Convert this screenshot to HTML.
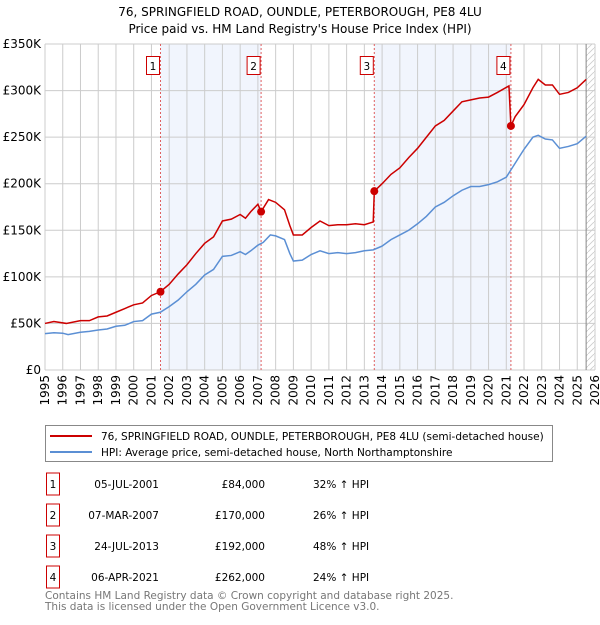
<!DOCTYPE html>
<html><head><meta charset="utf-8"><style>
body{margin:0;background:#fff;font-family:"Liberation Sans","DejaVu Sans",sans-serif;}
svg text{font-family:"DejaVu Sans","Liberation Sans",sans-serif;}
</style></head><body>
<svg id="chart" width="600" height="620" xmlns="http://www.w3.org/2000/svg">
<text x="300" y="16" text-anchor="middle" font-size="12">76, SPRINGFIELD ROAD, OUNDLE, PETERBOROUGH, PE8 4LU</text>
<text x="300" y="33" text-anchor="middle" font-size="12">Price paid vs. HM Land Registry's House Price Index (HPI)</text>
<g id="plot"></g>
<g>
<rect x="45.5" y="425.5" width="507" height="36" fill="#fff" stroke="#888"/>
<line x1="50" y1="436" x2="92" y2="436" stroke="#cc0000" stroke-width="2"/>
<text x="101" y="440" font-size="10.5">76, SPRINGFIELD ROAD, OUNDLE, PETERBOROUGH, PE8 4LU (semi-detached house)</text>
<line x1="50" y1="452" x2="92" y2="452" stroke="#5b8fd4" stroke-width="2"/>
<text x="101" y="456" font-size="10.5">HPI: Average price, semi-detached house, North Northamptonshire</text>
</g>
<g id="table" font-size="10.5"></g>
<text x="45" y="599" font-size="10.5" fill="#777">Contains HM Land Registry data © Crown copyright and database right 2025.</text>
<text x="45" y="610" font-size="10.5" fill="#777">This data is licensed under the Open Government Licence v3.0.</text>
</svg>
<script>
const hpiYears=[1995,1995.5,1996,1996.3,1997,1997.5,1998,1998.5,1999,1999.5,2000,2000.5,2001,2001.5,2002,2002.5,2003,2003.5,2004,2004.5,2005,2005.5,2006,2006.3,2006.6,2007,2007.3,2007.7,2008,2008.5,2008.8,2009,2009.5,2010,2010.5,2011,2011.5,2012,2012.5,2013,2013.5,2014,2014.5,2015,2015.5,2016,2016.5,2017,2017.5,2018,2018.5,2019,2019.5,2020,2020.5,2021,2021.5,2022,2022.5,2022.8,2023.2,2023.6,2024,2024.5,2025,2025.5];
const hpiValues=[39,40,39.5,38,40.5,41.5,43,44,47,48,52,53,60,62,68,75,84,92,102,108,122,123,127,124,128,134,137,145,144,140,125,117,118,124,128,125,126,125,126,128,129,133,140,145,150,157,165,175,180,187,193,197,197,199,202,207,222,237,250,252,248,247,238,240,243,251];
const redYears=[1995,1995.5,1996.2,1997,1997.5,1998,1998.5,1999,1999.5,2000,2000.5,2001,2001.5,2002,2002.5,2003,2003.5,2004,2004.5,2005,2005.5,2006,2006.3,2006.6,2007.0,2007.18,2007.6,2008,2008.5,2008.8,2009,2009.5,2010,2010.5,2011,2011.5,2012,2012.5,2013,2013.5,2013.56,2014,2014.5,2015,2015.5,2016,2016.5,2017,2017.5,2018,2018.5,2019,2019.5,2020,2020.5,2021.15,2021.26,2021.5,2022,2022.5,2022.8,2023.2,2023.6,2024,2024.5,2025,2025.5];
const redValues=[50,52,50,53,53,57,58,62,66,70,72,80,84,92,103,113,125,136,143,160,162,167,163,170,178,170,183,180,172,155,145,145,153,160,155,156,156,157,156,159,192,200,210,217,228,238,250,262,268,278,288,290,292,293,298,305,262,272,285,303,312,306,306,296,298,303,312];
const saleYears=[2001.51,2007.18,2013.56,2021.26];
const saleValues=[84,170,192,262];
const saleLabels=["1","2","3","4"];
const saleDates=["05-JUL-2001","07-MAR-2007","24-JUL-2013","06-APR-2021"];
const salePrices=["£84,000","£170,000","£192,000","£262,000"];
const saleHpi=["32% ↑ HPI","26% ↑ HPI","48% ↑ HPI","24% ↑ HPI"];
const yTicks=[0,50,100,150,200,250,300,350];
const yTickLabels=["£0","£50K","£100K","£150K","£200K","£250K","£300K","£350K"];
const xTicks=[1995,1996,1997,1998,1999,2000,2001,2002,2003,2004,2005,2006,2007,2008,2009,2010,2011,2012,2013,2014,2015,2016,2017,2018,2019,2020,2021,2022,2023,2024,2025,2026];

const X0=45,X1=595,Y0=370,Y1=44;
const xs=v=>X0+(v-1995)/(2026-1995)*(X1-X0);
const ys=v=>Y0-v/350*(Y0-Y1);
const NS="http://www.w3.org/2000/svg";
const plot=document.getElementById('plot');
function mk(tag,attrs,parent){const e=document.createElementNS(NS,tag);for(const k in attrs)e.setAttribute(k,attrs[k]);(parent||plot).appendChild(e);return e;}

for(const [a,b] of [[0,1],[2,3]]){
  const r=mk('rect',{x:xs(saleYears[a]),y:Y1,width:xs(saleYears[b])-xs(saleYears[a]),height:Y0-Y1,fill:'#eef3fc',opacity:0.8});
  
  
}
const defs=mk('defs',{});
const pat=mk('pattern',{id:'hatch',width:6,height:6,patternUnits:'userSpaceOnUse'},defs);
mk('path',{d:'M0,6 L6,0',stroke:'#ccc','stroke-width':0.8},pat);
const hr=mk('rect',{x:xs(2025.5),y:Y1,width:X1-xs(2025.5),height:Y0-Y1,fill:'url(#hatch)'});


yTicks.forEach((t,i)=>{
  const l=mk('line',{x1:X0,x2:X1,y1:ys(t),y2:ys(t),stroke:'#ccc','stroke-width':1});
  
  
  const tx=mk('text',{x:X0-4,y:ys(t)+4,'text-anchor':'end','font-size':12});
  tx.textContent=yTickLabels[i];
  
  
});
xTicks.forEach(t=>{
  const l=mk('line',{x1:xs(t),x2:xs(t),y1:Y1,y2:Y0,stroke:'#ccc','stroke-width':1});
  
  
  const tx=mk('text',{x:0,y:0,'text-anchor':'end','font-size':12,transform:`translate(${xs(t)+4},${Y0+5}) rotate(-90)`});
  tx.textContent=t;
  
  
});
const bl=mk('line',{x1:xs(2025.5),x2:xs(2025.5),y1:Y1,y2:Y0,stroke:'#888','stroke-width':1});


saleYears.forEach((y,i)=>{
  const l=mk('line',{x1:xs(y),x2:xs(y),y1:Y1,y2:Y0,stroke:'#e06060','stroke-width':1,'stroke-dasharray':'2,2'});
  
  
  const g=mk('g',{});
  
  
  mk('rect',{x:xs(y)-14,y:56.5,width:13,height:18,fill:'#fff',stroke:'#cc0000'},g);
  const tt=mk('text',{x:xs(y)-7.5,y:70,'text-anchor':'middle','font-size':10.5},g);
  tt.textContent=saleLabels[i];
});
const hp=mk('polyline',{points:hpiYears.map((y,i)=>xs(y)+','+ys(hpiValues[i])).join(' '),fill:'none',stroke:'#5b8fd4','stroke-width':1.5});


const rp=mk('polyline',{points:redYears.map((y,i)=>xs(y)+','+ys(redValues[i])).join(' '),fill:'none',stroke:'#cc0000','stroke-width':1.5});


saleYears.forEach((y,i)=>{
  const c=mk('circle',{cx:xs(y),cy:ys(saleValues[i]),r:4,fill:'#cc0000'});
  
  
});
const tb=document.getElementById('table');
saleLabels.forEach((lab,i)=>{
  const cy=484+i*31;
  const g=mk('g',{},tb);
  
  
  mk('rect',{x:46.5,y:cy-11,width:13,height:22,fill:'#fff',stroke:'#cc0000'},g);
  const a=mk('text',{x:53,y:cy+4,'text-anchor':'middle'},g);a.textContent=lab;
  const b=mk('text',{x:159,y:cy+4,'text-anchor':'end'},g);b.textContent=saleDates[i];
  const c=mk('text',{x:265,y:cy+4,'text-anchor':'end'},g);c.textContent=salePrices[i];
  const d=mk('text',{x:313,y:cy+4},g);d.textContent=saleHpi[i];
});
</script>
</body></html>
